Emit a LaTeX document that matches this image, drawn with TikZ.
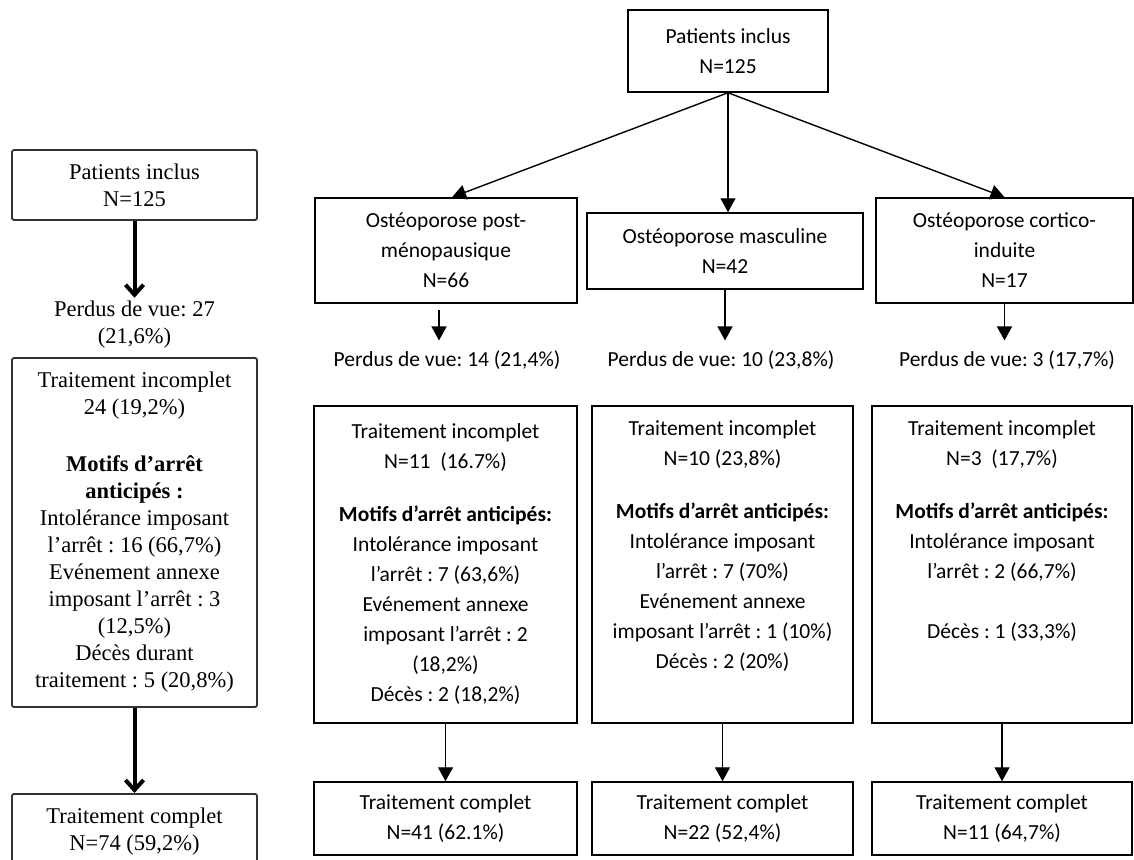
\documentclass[tikz,border=0pt]{standalone}
\usepackage{fontspec}
\setmainfont{Liberation Serif}
\newfontfamily\calibri{Carlito}
\usetikzlibrary{arrows.meta}
\frenchspacing

\tikzset{
  boxL/.style={draw=black!80, line width=1.8pt, rounded corners=2pt, minimum width=245pt,
    align=center, font=\fontsize{22.5}{27}\selectfont},
  txtL/.style={align=center, font=\fontsize{22.5}{27}\selectfont},
  boxR/.style={draw, line width=1.5pt, align=center, font=\calibri\fontsize{21.5}{30}\selectfont},
  txtR/.style={align=center, inner sep=10pt, font=\calibri\fontsize{21.5}{30}\selectfont},
  arrL/.style={line width=4pt, -{Straight Barb[length=10pt,width=18pt]}},
  arrR/.style={line width=1.4pt, -{Triangle[length=14pt,width=15pt]}},
}

\begin{document}
\begin{tikzpicture}[x=1pt, y=-1pt]
            \useasboundingbox (0,0) rectangle (1134,859);

            % Colonne gauche
            \node[boxL, minimum height=70pt] (inclL) at (134.5,185) {Patients inclus\\N=125};
            \node[txtL] (perdL) at (134.5,325) {Perdus de vue: 27\\(21,6\%)};
            \node[boxL, minimum height=349pt] (incL) at (134.5,532.5) {Traitement incomplet\\24 (19,2\%)\\[30pt]\textbf{Motifs d’arrêt}\\\textbf{anticipés :}\\Intolérance imposant\\l’arrêt : 16 (66,7\%)\\Evénement annexe\\imposant l’arrêt : 3\\(12,5\%)\\Décès durant\\traitement : 5 (20,8\%)};
            \node[boxL, minimum height=75pt, anchor=north] (compL) at (134.5,793) {Traitement complet\\N=74 (59,2\%)};

            \draw[arrL] (inclL.south) -- (perdL.north);
            \draw[arrL] (incL.south) -- (compL.north);

            % Colonne droite : groupes
            \node[boxR, minimum width=200pt, minimum height=82pt] (inclR) at (728,51) {Patients inclus\\N=125};
            \node[boxR, minimum width=262pt, minimum height=105pt] (osteoPM) at (446,250.5) {Ostéoporose post-\\ménopausique\\N=66};
            \node[boxR, minimum width=276pt, minimum height=76pt] (osteoM) at (725,251) {Ostéoporose masculine\\N=42};
            \node[boxR, minimum width=257pt, minimum height=105pt] (osteoCI) at (1004.5,250.5) {Ostéoporose cortico-\\induite\\N=17};

            \draw[arrR] (inclR.south) -- ([xshift=6pt]osteoPM.north);
            \draw[arrR] (inclR.south) -- (inclR.south |- osteoM.north);
            \draw[arrR] (inclR.south) -- (osteoCI.north);

            % Perdus de vue
            \node[txtR] (perdPM) at (447,360) {Perdus de vue: 14 (21,4\%)};
            \node[txtR] (perdM) at (721,360) {Perdus de vue: 10 (23,8\%)};
            \node[txtR] (perdCI) at (1007,360) {Perdus de vue: 3 (17,7\%)};

            \coordinate (gapPM) at (439,310);
            \draw[arrR] (gapPM) -- (gapPM |- perdPM.north);
            \draw[arrR] (osteoM.south) -- (osteoM.south |- perdM.north);
            \draw[arrR] (osteoCI.south) -- (osteoCI.south |- perdCI.north);

            % Traitement incomplet
            \node[boxR, minimum width=263pt, minimum height=317pt] (incPM) at (445.5,564.5) {Traitement incomplet\\N=11~~(16.7\%)\\[23pt]\textbf{Motifs d’arrêt anticipés:}\\Intolérance imposant\\l’arrêt : 7 (63,6\%)\\Evénement annexe\\imposant l’arrêt : 2\\(18,2\%)\\Décès : 2 (18,2\%)};
            \node[boxR, minimum width=261pt, minimum height=317pt] (incM) at (722.5,564.5) {Traitement incomplet\\N=10 (23,8\%)\\[23pt]\textbf{Motifs d’arrêt anticipés:}\\Intolérance imposant\\l’arrêt : 7 (70\%)\\Evénement annexe\\imposant l’arrêt : 1 (10\%)\\Décès : 2 (20\%)\\\strut};
            \node[boxR, minimum width=260pt, minimum height=317pt] (incCI) at (1002,564.5) {Traitement incomplet\\N=3~~(17,7\%)\\[23pt]\textbf{Motifs d’arrêt anticipés:}\\Intolérance imposant\\l’arrêt : 2 (66,7\%)\\\strut\\Décès : 1 (33,3\%)\\\strut\\\strut};

            % Traitement complet
            \node[boxR, minimum width=263pt, minimum height=73pt] (compPM) at (445.5,818.5) {Traitement complet\\N=41 (62.1\%)};
            \node[boxR, minimum width=261pt, minimum height=73pt] (compM) at (722.5,818.5) {Traitement complet\\N=22 (52,4\%)};
            \node[boxR, minimum width=260pt, minimum height=73pt] (compCI) at (1002,818.5) {Traitement complet\\N=11 (64,7\%)};

            \draw[arrR] (incPM.south) -- (compPM.north);
            \draw[arrR] (incM.south) -- (compM.north);
            \draw[arrR] (incCI.south) -- (compCI.north);
\end{tikzpicture}
\end{document}
